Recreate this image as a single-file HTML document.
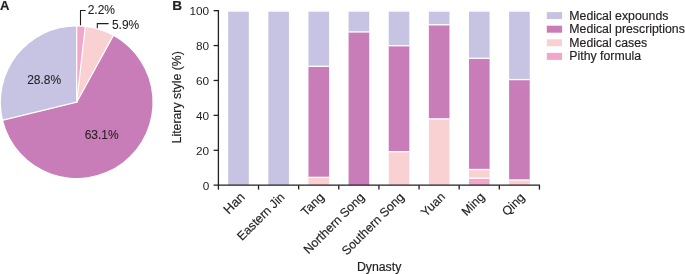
<!DOCTYPE html>
<html><head><meta charset="utf-8"><title>Figure</title>
<style>
html,body{margin:0;padding:0;background:#fff;}
svg{display:block;}
text{font-family:"Liberation Sans",Arial,Helvetica,sans-serif;font-size:12.3px;fill:#231F20;stroke:#231F20;stroke-width:0.18px;}
.b{font-weight:bold;font-size:13.5px;}
.s{font-size:12px;stroke-width:0.08px;}
.t{font-size:11.8px;stroke:none;}
.ax{stroke:#231F20;stroke-width:1.3;fill:none;}
</style></head><body>
<svg width="685" height="274" viewBox="0 0 685 274">
<rect width="685" height="274" fill="#fff"/>
<path d="M76.7,102.2 L76.70,26.40 A75.8,75.8 0 0 1 85.25,26.88 Z" fill="#F3A6CC"/>
<path d="M76.7,102.2 L85.25,26.88 A75.8,75.8 0 0 1 113.22,35.78 Z" fill="#FAD1D2"/>
<path d="M76.7,102.2 L113.22,35.78 A75.8,75.8 0 1 1 3.05,120.13 Z" fill="#C87DB8"/>
<path d="M76.7,102.2 L3.05,120.13 A75.8,75.8 0 0 1 76.70,26.40 Z" fill="#C6C4E2"/>
<path d="M76.7,102.2 L76.70,25.40" stroke="#fff" stroke-width="1.2" stroke-linecap="round"/>
<path d="M76.7,102.2 L85.37,25.89" stroke="#fff" stroke-width="1.2" stroke-linecap="round"/>
<path d="M76.7,102.2 L113.70,34.90" stroke="#fff" stroke-width="1.2" stroke-linecap="round"/>
<path d="M76.7,102.2 L2.08,120.36" stroke="#fff" stroke-width="1.2" stroke-linecap="round"/>
<path class="ax" style="stroke-width:1.1" d="M80.5,25.2 V10.5 H85.7"/>
<path class="ax" style="stroke-width:1.1" d="M97.3,28.2 V23.6 H108.6"/>
<text class="s" x="87.7" y="14.3">2.2%</text>
<text class="s" x="111.9" y="28.5">5.9%</text>
<text class="s" x="27.2" y="84.2">28.8%</text>
<text class="s" x="84.7" y="138.5">63.1%</text>
<text class="b" transform="translate(0,10.4) scale(0.97,1)">A</text>
<text class="b" transform="translate(172.3,10.3) scale(1.01,1)">B</text>
<rect x="228.20" y="11.70" width="20.6" height="173.50" fill="#C6C4E2"/>
<rect x="268.33" y="11.70" width="20.6" height="173.50" fill="#C6C4E2"/>
<rect x="308.46" y="177.35" width="20.6" height="7.85" fill="#FAD1D2"/>
<rect x="308.46" y="66.33" width="20.6" height="111.01" fill="#C87DB8"/>
<rect x="308.46" y="176.70" width="20.6" height="1.3" fill="#fff"/>
<rect x="308.46" y="11.70" width="20.6" height="54.63" fill="#C6C4E2"/>
<rect x="308.46" y="65.68" width="20.6" height="1.3" fill="#fff"/>
<rect x="348.59" y="31.95" width="20.6" height="153.25" fill="#C87DB8"/>
<rect x="348.59" y="11.70" width="20.6" height="20.25" fill="#C6C4E2"/>
<rect x="348.59" y="31.30" width="20.6" height="1.3" fill="#fff"/>
<rect x="388.72" y="151.69" width="20.6" height="33.51" fill="#FAD1D2"/>
<rect x="388.72" y="45.73" width="20.6" height="105.95" fill="#C87DB8"/>
<rect x="388.72" y="151.04" width="20.6" height="1.3" fill="#fff"/>
<rect x="388.72" y="11.70" width="20.6" height="34.03" fill="#C6C4E2"/>
<rect x="388.72" y="45.08" width="20.6" height="1.3" fill="#fff"/>
<rect x="428.85" y="118.87" width="20.6" height="66.33" fill="#FAD1D2"/>
<rect x="428.85" y="24.79" width="20.6" height="94.08" fill="#C87DB8"/>
<rect x="428.85" y="118.22" width="20.6" height="1.3" fill="#fff"/>
<rect x="428.85" y="11.70" width="20.6" height="13.09" fill="#C6C4E2"/>
<rect x="428.85" y="24.14" width="20.6" height="1.3" fill="#fff"/>
<rect x="468.98" y="178.22" width="20.6" height="6.98" fill="#F3A6CC"/>
<rect x="468.98" y="169.49" width="20.6" height="8.73" fill="#FAD1D2"/>
<rect x="468.98" y="177.57" width="20.6" height="1.3" fill="#fff"/>
<rect x="468.98" y="58.30" width="20.6" height="111.19" fill="#C87DB8"/>
<rect x="468.98" y="168.84" width="20.6" height="1.3" fill="#fff"/>
<rect x="468.98" y="11.70" width="20.6" height="46.60" fill="#C6C4E2"/>
<rect x="468.98" y="57.65" width="20.6" height="1.3" fill="#fff"/>
<rect x="509.11" y="179.96" width="20.6" height="5.24" fill="#FAD1D2"/>
<rect x="509.11" y="79.60" width="20.6" height="100.37" fill="#C87DB8"/>
<rect x="509.11" y="179.31" width="20.6" height="1.3" fill="#fff"/>
<rect x="509.11" y="11.70" width="20.6" height="67.90" fill="#C6C4E2"/>
<rect x="509.11" y="78.95" width="20.6" height="1.3" fill="#fff"/>
<path class="ax" d="M218.4,10 V189.6"/>
<path class="ax" d="M213.6,185.2 H540"/>
<text class="t" x="209.2" y="189.55" text-anchor="end">0</text>
<path class="ax" d="M213.6,150.29 H218.4"/>
<text class="t" x="209.2" y="154.64" text-anchor="end">20</text>
<path class="ax" d="M213.6,115.38 H218.4"/>
<text class="t" x="209.2" y="119.73" text-anchor="end">40</text>
<path class="ax" d="M213.6,80.47 H218.4"/>
<text class="t" x="209.2" y="84.82" text-anchor="end">60</text>
<path class="ax" d="M213.6,45.56 H218.4"/>
<text class="t" x="209.2" y="49.91" text-anchor="end">80</text>
<path class="ax" d="M213.6,10.65 H218.4"/>
<text class="t" x="209.2" y="15.00" text-anchor="end">100</text>
<path class="ax" d="M258.53,185.2 V189.6"/>
<path class="ax" d="M298.66,185.2 V189.6"/>
<path class="ax" d="M338.79,185.2 V189.6"/>
<path class="ax" d="M378.92,185.2 V189.6"/>
<path class="ax" d="M419.05,185.2 V189.6"/>
<path class="ax" d="M459.18,185.2 V189.6"/>
<path class="ax" d="M499.31,185.2 V189.6"/>
<path class="ax" d="M539.44,185.2 V189.6"/>
<text transform="translate(245.70,197.80) rotate(-45)" text-anchor="end" style="font-size:13.0px">Han</text>
<text transform="translate(285.43,197.80) rotate(-45)" text-anchor="end" style="font-size:12.3px">Eastern Jin</text>
<text transform="translate(324.76,197.80) rotate(-45)" text-anchor="end" style="font-size:12.3px">Tang</text>
<text transform="translate(365.09,198.00) rotate(-45)" text-anchor="end" style="font-size:12.3px">Northern Song</text>
<text transform="translate(404.72,197.80) rotate(-45)" text-anchor="end" style="font-size:12.3px">Southern Song</text>
<text transform="translate(445.85,197.50) rotate(-45)" text-anchor="end" style="font-size:12.3px">Yuan</text>
<text transform="translate(485.28,197.60) rotate(-45)" text-anchor="end" style="font-size:12.3px">Ming</text>
<text transform="translate(525.41,198.10) rotate(-45)" text-anchor="end" style="font-size:12.3px">Qing</text>
<text transform="translate(181.4,97.3) rotate(-90)" text-anchor="middle">Literary style (%)</text>
<text x="379.1" y="271.2" text-anchor="middle">Dynasty</text>
<rect x="546.8" y="12.10" width="15.3" height="7" fill="#C6C4E2"/>
<text x="569.3" y="19.60">Medical expounds</text>
<rect x="546.8" y="25.70" width="15.3" height="7" fill="#C87DB8"/>
<text x="569.3" y="33.20">Medical prescriptions</text>
<rect x="546.8" y="39.30" width="15.3" height="7" fill="#FAD1D2"/>
<text x="569.3" y="46.80">Medical cases</text>
<rect x="546.8" y="52.90" width="15.3" height="7" fill="#F3A6CC"/>
<text x="569.3" y="60.40">Pithy formula</text>
</svg></body></html>
